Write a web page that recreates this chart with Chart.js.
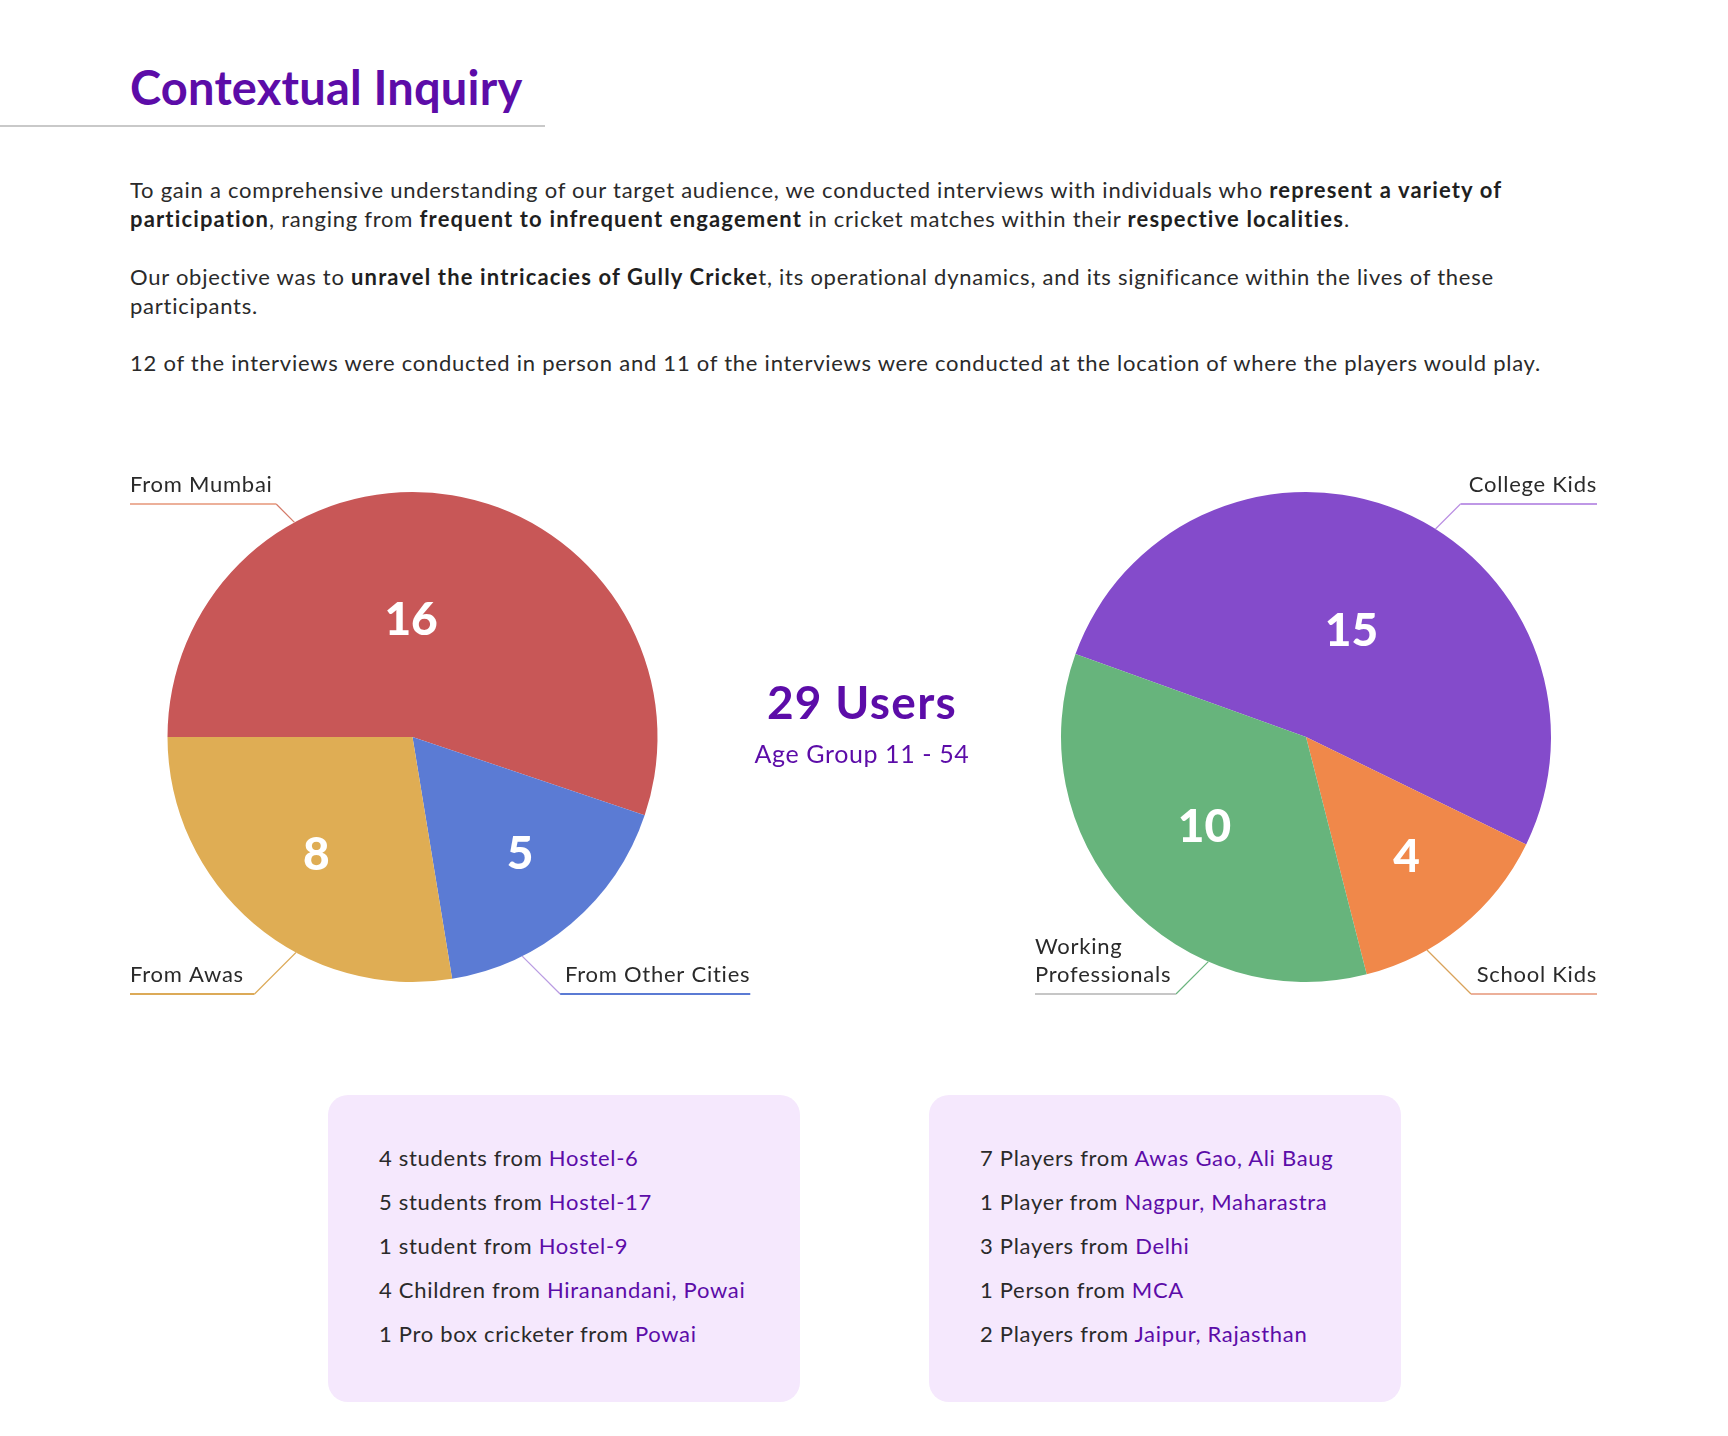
<!DOCTYPE html>
<html>
<head>
<meta charset="utf-8">
<title>Contextual Inquiry</title>
<script src="https://cdn.jsdelivr.net/npm/chart.js@4.4.1/dist/chart.umd.min.js"></script>
<style>
    body { margin: 0; background: #ffffff; font-family: "Lato", "Open Sans", sans-serif; color: #2a2a2a; }
    .pagina { position: relative; width: 1728px; height: 1436px; overflow: hidden; }
    .titulo { position: absolute; left: 130px; top: 64px; font-size: 47px; line-height: 47px; font-weight: 700; color: #5c0ca8; white-space: nowrap; letter-spacing: 0.2px; }
    .regua { position: absolute; left: 0; top: 125px; width: 545px; height: 2px; background: #c9c9c9; }
    .paragrafo { position: absolute; left: 130px; font-size: 22px; line-height: 29px; white-space: nowrap; letter-spacing: 0.75px; }
    .paragrafo b { font-weight: 700; color: #1f1f1f; letter-spacing: 1.15px; }
    .grafico { position: absolute; top: 450px; width: 700px; height: 560px; }
    .centro { position: absolute; left: 712px; width: 300px; text-align: center; color: #5c0ca8; white-space: nowrap; }
    .caixa { position: absolute; top: 1095px; width: 472px; height: 307px; background: #f5e8fd; border-radius: 20px; }
    .caixa ul { list-style: none; margin: 0; padding: 0; position: absolute; top: 41px; left: 51px; }
    .caixa li { font-size: 22px; line-height: 44px; white-space: nowrap; letter-spacing: 0.7px; }
    .caixa span { color: #5c0ca8; }
</style>
</head>
<body>
<div class="pagina">
    <div class="titulo">Contextual Inquiry</div>
    <div class="regua"></div>

    <div class="paragrafo" style="top:175px">
        To gain a comprehensive understanding of our target audience, we conducted interviews with individuals who <b>represent a variety of</b><br>
        <b>participation</b>, ranging from <b>frequent to infrequent engagement</b> in cricket matches within their <b>respective localities</b>.
    </div>
    <div class="paragrafo" style="top:262px">
        Our objective was to <b>unravel the intricacies of Gully Cricke</b>t, its operational dynamics, and its significance within the lives of these<br>
        participants.
    </div>
    <div class="paragrafo" style="top:348px">
        12 of the interviews were conducted in person and 11 of the interviews were conducted at the location of where the players would play.
    </div>

    <div class="grafico" style="left:100px"><canvas id="graficoCidades"></canvas></div>
    <div class="grafico" style="left:1000px"><canvas id="graficoGrupos"></canvas></div>

    <div class="centro" style="top:679px; font-size:46px; line-height:46px; font-weight:700; letter-spacing:1.3px">29 Users</div>
    <div class="centro" style="top:741px; font-size:25px; line-height:25px; letter-spacing:0.6px">Age Group 11 - 54</div>

    <div class="caixa" style="left:328px">
        <ul>
            <li>4 students from <span>Hostel-6</span></li>
            <li>5 students from <span>Hostel-17</span></li>
            <li>1 student from <span>Hostel-9</span></li>
            <li>4 Children from <span>Hiranandani, Powai</span></li>
            <li>1 Pro box cricketer from <span>Powai</span></li>
        </ul>
    </div>
    <div class="caixa" style="left:929px">
        <ul>
            <li>7 Players from <span>Awas Gao, Ali Baug</span></li>
            <li>1 Player from <span>Nagpur, Maharastra</span></li>
            <li>3 Players from <span>Delhi</span></li>
            <li>1 Person from <span>MCA</span></li>
            <li>2 Players from <span>Jaipur, Rajasthan</span></li>
        </ul>
    </div>
</div>

<script>
// dados dos graficos
var cidadesLabels = ["From Mumbai", "From Other Cities", "From Awas"];
var cidadesValores = [16, 5, 8];
var cidadesCores = ["#c85757", "#5b7bd4", "#dfad54"];

var gruposLabels = ["College Kids", "School Kids", ["Working", "Professionals"]];
var gruposValores = [15, 4, 10];
var gruposCores = ["#844bcb", "#f0884a", "#67b47c"];

// desenha os numeros dentro das fatias e as linhas ate os nomes
var pluginChamadas = {
    id: "chamadas",
    afterDatasetsDraw: function (chart, args, opts) {
        var ctx = chart.ctx;
        var meta = chart.getDatasetMeta(0);
        var valores = chart.data.datasets[0].data;

        ctx.save();
        for (var i = 0; i < meta.data.length; i++) {
            var p = meta.data[i].getProps(["x", "y", "startAngle", "endAngle", "outerRadius"], true);
            var meio = (p.startAngle + p.endAngle) / 2 + opts.desvioNumero[i] * Math.PI / 180;
            var r = p.outerRadius * opts.raioNumero[i];

            ctx.letterSpacing = "0px";
            ctx.font = "900 46px Lato";
            ctx.fillStyle = "#ffffff";
            ctx.textAlign = "center";
            ctx.textBaseline = "alphabetic";
            ctx.fillText(String(valores[i]), p.x + Math.cos(meio) * r, p.y + Math.sin(meio) * r + 16);

            // linha de chamada
            var c = opts.chamadas[i];
            var ang = c.angulo * Math.PI / 180;
            var ex = p.x + p.outerRadius * Math.sin(ang);
            var ey = p.y - p.outerRadius * Math.cos(ang);
            var ly = p.y + c.linhaY;
            var jx = ex + (Math.sin(ang) < 0 ? -1 : 1) * Math.abs(ly - ey);

            var linhas = [].concat(chart.data.labels[i]);
            ctx.font = "22px Lato";
            ctx.letterSpacing = "0.75px";
            var largura = 0;
            for (var k = 0; k < linhas.length; k++) {
                largura = Math.max(largura, ctx.measureText(linhas[k]).width);
            }
            var tx = p.x + c.textoX;
            var x0 = c.alinhar === "right" ? tx - largura : tx;
            var x1 = x0 + largura;

            ctx.lineWidth = 1.2;
            ctx.strokeStyle = c.corDiagonal;
            ctx.beginPath();
            ctx.moveTo(ex, ey);
            ctx.lineTo(jx, ly);
            ctx.stroke();

            ctx.lineWidth = 2;
            ctx.strokeStyle = c.corLinha;
            ctx.beginPath();
            ctx.moveTo(Math.min(jx, x0), ly);
            ctx.lineTo(Math.max(jx, x1), ly);
            ctx.stroke();

            ctx.fillStyle = "#2a2a2a";
            ctx.textAlign = "left";
            for (var k = 0; k < linhas.length; k++) {
                var base = ly - 12 - (linhas.length - 1 - k) * 28;
                ctx.fillText(linhas[k], x0, base);
            }
        }
        ctx.restore();
    }
};

function criarPizza(id, labels, valores, cores, rotacao, padding, raioNumero, desvioNumero, chamadas) {
    var ctx = document.getElementById(id).getContext("2d");

    new Chart(ctx, {
        type: "pie",
        data: {
            labels: labels,
            datasets: [{
                data: valores,
                backgroundColor: cores,
                borderWidth: 0,
                hoverOffset: 0,
                offset: 0
            }]
        },
        options: {
            responsive: true,
            maintainAspectRatio: false,
            animation: false,
            rotation: rotacao,
            layout: { padding: padding },
            events: [],
            plugins: {
                legend: { display: false },
                tooltip: { enabled: false },
                chamadas: { raioNumero: raioNumero, desvioNumero: desvioNumero, chamadas: chamadas }
            }
        },
        plugins: [pluginChamadas]
    });
}

criarPizza("graficoCidades", cidadesLabels, cidadesValores, cidadesCores, -90,
    { left: 67.5, right: 142.5, top: 42, bottom: 28 },
    [0.48, 0.647, 0.617],
    [-10, -2.4, -0.8],
    [
        { angulo: 331.2, linhaY: -233, textoX: -282.5, alinhar: "left", corDiagonal: "#d47a68", corLinha: "#ecb09a" },
        { angulo: 153.4, linhaY: 257, textoX: 152.5, alinhar: "left", corDiagonal: "#b99be2", corLinha: "#5b7bd4" },
        { angulo: 208.4, linhaY: 257, textoX: -282.5, alinhar: "left", corDiagonal: "#dcaa58", corLinha: "#dcaa58" }
    ]);

criarPizza("graficoGrupos", gruposLabels, gruposValores, gruposCores, -70.2,
    { left: 61, right: 149, top: 42, bottom: 28 },
    [0.476, 0.636, 0.55],
    [0, -1, 1.2],
    [
        { angulo: 31.9, linhaY: -233, textoX: 291, alinhar: "right", corDiagonal: "#b98de2", corLinha: "#bf98e6" },
        { angulo: 150.4, linhaY: 257, textoX: 291, alinhar: "right", corDiagonal: "#d9a25a", corLinha: "#ecb09a" },
        { angulo: 203.5, linhaY: 257, textoX: -271, alinhar: "left", corDiagonal: "#6ab47e", corLinha: "#c6c6c6" }
    ]);
</script>
</body>
</html>
